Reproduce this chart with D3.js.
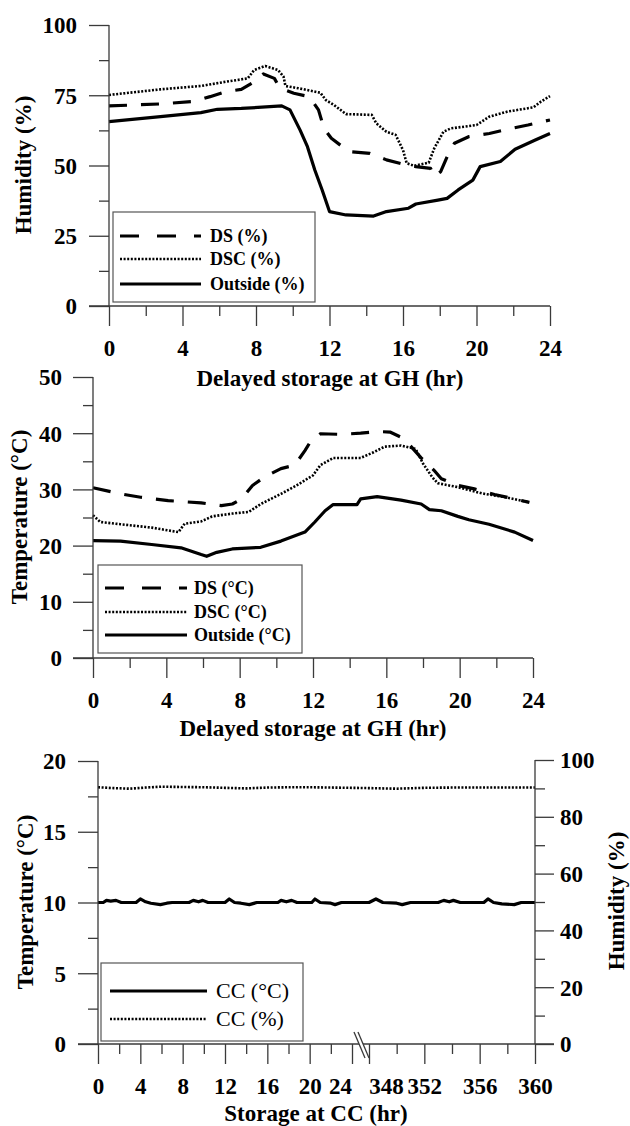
<!DOCTYPE html>
<html><head><meta charset="utf-8">
<script src="https://cdn.jsdelivr.net/npm/d3@7/dist/d3.min.js"></script>
<style>
html,body{margin:0;padding:0;background:#fff;}
svg text{font-family:"Liberation Serif","Times New Roman",serif;fill:#000;}
</style></head>
<body>
<svg id="c" width="630" height="1126"></svg>
<script>
// ---------- DATA ----------
// Panel 1: Humidity (%) vs delayed storage at GH (hr)
const humDS = [[0,71.2],[2.8,71.9],[4.6,72.8],[5.5,74.5],[6.35,76.3],[7.2,77.1],[7.9,79.8],[8.4,82.6],[9.0,81.0],[9.3,77.5],[10.06,75.7],[10.9,74.5],[11.4,69.8],[11.7,63.2],[12.1,59.7],[12.7,56.7],[13.1,54.9],[14.2,54.3],[15.1,52.0],[16.0,50.5],[16.7,49.6],[17.5,49.0],[17.7,46.0],[18.05,47.8],[18.4,53.1],[18.8,57.9],[19.6,60.3],[20.7,61.4],[21.9,63.2],[22.8,64.4],[24,66.2]];
const humDSC = [[0,75.1],[2.8,77.1],[5.0,78.3],[6.35,79.8],[7.55,81.0],[7.9,84.0],[8.5,85.4],[9.2,84.0],[9.5,81.6],[9.6,78.3],[10.3,77.5],[11.5,75.9],[11.8,73.3],[12.25,71.5],[12.9,68.3],[14.3,68.0],[14.55,65.0],[15.1,62.0],[15.6,60.9],[16.0,55.5],[16.2,50.8],[16.6,49.9],[17.4,51.0],[17.7,56.1],[18.2,62.0],[18.6,63.2],[20.0,64.4],[20.7,67.4],[21.7,69.2],[23.1,70.7],[23.5,72.7],[24,74.7]];
const humOut = [[0,65.6],[2.8,67.4],[5.0,68.8],[5.9,70.0],[7.2,70.3],[9.4,71.2],[9.85,69.8],[10.4,62.6],[10.8,56.7],[11.2,48.4],[11.6,41.3],[12.0,33.6],[12.9,32.4],[14.4,32.0],[15.1,33.6],[16.3,34.8],[16.7,36.3],[17.9,37.7],[18.4,38.3],[19.0,41.3],[19.8,44.8],[20.2,49.6],[21.3,51.4],[22.1,55.8],[23.2,59.1],[24,61.4]];
// Panel 2: Temperature (°C) vs delayed storage at GH (hr)
const tmpDS = [[0,30.3],[1.5,29.2],[2.6,28.6],[4.1,28.0],[5.9,27.6],[7.0,27.1],[7.6,27.4],[8.1,28.3],[8.7,30.7],[9.4,32.3],[10.25,33.7],[11.0,34.3],[11.56,36.9],[11.9,38.7],[12.4,39.9],[13.5,39.8],[14.6,40.0],[15.5,40.3],[16.2,40.2],[16.8,39.3],[17.3,37.8],[17.9,35.6],[18.6,33.4],[19.0,31.9],[19.9,30.7],[20.8,30.1],[21.9,29.1],[23.0,28.3],[23.8,27.7]];
const tmpDSC = [[0,25.4],[0.4,24.2],[1.5,23.8],[3.2,23.2],[4.66,22.4],[5.0,23.9],[5.9,24.3],[6.5,25.2],[7.6,25.7],[8.5,26.0],[9.15,27.4],[10.25,29.2],[11.1,30.7],[12.0,32.5],[12.4,34.3],[13.1,35.6],[14.6,35.6],[15.3,36.6],[15.9,37.6],[16.8,37.8],[17.6,37.2],[18.0,34.6],[18.5,32.2],[18.8,31.1],[19.9,30.4],[21.2,29.3],[22.5,28.6],[23.8,27.7]];
const tmpOut = [[0,20.9],[1.5,20.8],[3.2,20.2],[4.8,19.6],[5.9,18.4],[6.2,18.1],[6.75,18.8],[7.6,19.4],[9.15,19.7],[10.25,20.8],[11.56,22.4],[12.1,24.2],[12.66,26.2],[13.1,27.3],[14.4,27.3],[14.6,28.3],[15.5,28.7],[16.8,28.1],[17.9,27.4],[18.35,26.4],[19.0,26.2],[19.9,25.2],[20.5,24.6],[21.6,23.8],[23.0,22.4],[24,20.9]];
// Panel 3: Storage at CC (hr), broken axis 0-24 | 348-360
const ccTemp = [[0,10.0],[0.5,10.0],[0.8,10.15],[1.2,10.1],[1.7,10.15],[2.2,10.0],[3.6,10.0],[4.0,10.25],[4.5,10.05],[5.0,9.95],[5.9,9.85],[6.5,9.95],[7.0,10.0],[8.6,10.0],[9.0,10.15],[9.5,10.05],[9.9,10.15],[10.4,10.0],[12.0,10.0],[12.4,10.25],[12.9,10.0],[13.5,9.95],[14.3,9.85],[15.0,10.0],[17.0,10.0],[17.3,10.15],[17.8,10.05],[18.3,10.15],[18.8,10.0],[20.2,10.0],[20.5,10.25],[21.0,10.0],[22.0,9.95],[22.4,9.85],[23.0,10.0],[24,10.0],[348,10.0],[348.5,10.25],[349.0,10.0],[350.0,9.95],[350.4,9.85],[351.0,10.0],[353.0,10.0],[353.4,10.15],[353.8,10.05],[354.1,10.15],[354.6,10.0],[356.3,10.0],[356.6,10.25],[357.0,10.0],[357.6,9.9],[358.5,9.85],[359.0,10.0],[360,10.0]];
const ccHum = [[0,90.4],[1.5,90.1],[3,89.9],[4.5,90.3],[6,90.6],[8,90.5],[10,90.4],[12,90.2],[14,90.0],[16,90.3],[18,90.4],[20,90.4],[22,90.3],[24,90.2],[348,90.1],[350,89.9],[352,90.2],[354,90.3],[356,90.3],[358,90.3],[360,90.3]];

const ghMajor = [0,4,8,12,16,20,24];
const ghMinor = [2,6,10,14,18,22];
const humMajor = [0,25,50,75,100];
const humMinor = [12.5,37.5,62.5,87.5];
const tmpMajor = [0,10,20,30,40,50];
const tmpMinor = [5,15,25,35,45];
const ccTMajor = [0,5,10,15,20];
const ccTMinor = [2.5,7.5,12.5,17.5];
const ccHMajor = [0,20,40,60,80,100];
const ccHMinor = [10,30,50,70,90];
const ccXMajorA = [0,4,8,12,16,20,24];
const ccXMinorA = [2,6,10,14,18,22];
const ccXMajorB = [348,352,356,360];
const ccXMinorB = [350,354,358];

const legend1 = ["DS (%)","DSC (%)","Outside (%)"];
const legend2 = ["DS (°C)","DSC (°C)","Outside (°C)"];
const legend3 = ["CC (°C)","CC (%)"];

// ---------- DRAWING ----------
const svg = d3.select("#c");
const AX = "#3a3a3a";
const styles = {
  dash: {w:3.2, d:"18,14"},
  dot:  {w:2.6, d:"2,1.6"},
  solid:{w:3.2, d:null}
};

function ticks(g, axis){
  g.call(axis);
  g.select(".domain").remove();
  g.selectAll(".tick line").attr("stroke",AX).attr("stroke-width",1.3);
  g.selectAll("text").attr("font-size",23).attr("font-weight","bold").attr("fill","#000");
}

function leftAxis(y, x0, major, minor, labelGap){
  const g1 = svg.append("g").attr("transform",`translate(${x0},0)`);
  ticks(g1, d3.axisLeft(y).tickValues(major).tickSize(20).tickPadding(labelGap).tickFormat(d3.format("d")));
  g1.selectAll("text").attr("dy","0.34em");
  const g2 = svg.append("g").attr("transform",`translate(${x0},0)`);
  ticks(g2, d3.axisLeft(y).tickValues(minor).tickSize(10).tickFormat(""));
}
function bottomAxis(x, y0, major, minor){
  const g1 = svg.append("g").attr("transform",`translate(0,${y0})`);
  ticks(g1, d3.axisBottom(x).tickValues(major).tickSize(20).tickPadding(14).tickFormat(d3.format("d")));
  const g2 = svg.append("g").attr("transform",`translate(0,${y0})`);
  ticks(g2, d3.axisBottom(x).tickValues(minor).tickSize(10).tickFormat(""));
  return g1;
}
function hline(x1,x2,y){svg.append("line").attr("x1",x1).attr("x2",x2).attr("y1",y).attr("y2",y).attr("stroke",AX).attr("stroke-width",1.3);}
function vline(x,y1,y2){svg.append("line").attr("x1",x).attr("x2",x).attr("y1",y1).attr("y2",y2).attr("stroke",AX).attr("stroke-width",1.3);}

function series(data, xf, y, st){
  const line = d3.line().x(d=>xf(d[0])).y(d=>y(d[1]));
  const p = svg.append("path").datum(data).attr("d",line).attr("fill","none")
    .attr("stroke","#000").attr("stroke-width",st.w).attr("stroke-linejoin","round");
  if(st.d) p.attr("stroke-dasharray",st.d);
}
function legend(x,y,w,h,items,sts,lx1,lx2,tx,rows,fs,fw){
  svg.append("rect").attr("x",x).attr("y",y).attr("width",w).attr("height",h)
    .attr("fill","#fff").attr("stroke","#555").attr("stroke-width",1.2);
  items.forEach((t,i)=>{
    const st = sts[i];
    const l = svg.append("line").attr("x1",lx1).attr("x2",lx2).attr("y1",rows[i]).attr("y2",rows[i])
      .attr("stroke","#000").attr("stroke-width",st.w);
    if(st.d) l.attr("stroke-dasharray", st===styles.dash ? "19,18" : st.d);
    svg.append("text").attr("x",tx).attr("y",rows[i]).attr("dy","0.34em")
      .attr("font-size",fs).attr("font-weight",fw).text(t);
  });
}
function yTitle(x,y,t){
  svg.append("text").attr("transform",`translate(${x},${y}) rotate(-90)`).attr("text-anchor","middle")
    .attr("font-size",23).attr("font-weight","bold").text(t);
}
function xTitle(x,y,t){
  svg.append("text").attr("x",x).attr("y",y).attr("text-anchor","middle")
    .attr("font-size",23).attr("font-weight","bold").text(t);
}

// ----- Panel 1 -----
{
  const x = d3.scaleLinear().domain([0,24]).range([109,550]);
  const y = d3.scaleLinear().domain([0,100]).range([306,25]);
  series(humDS, x, y, styles.dash);
  series(humDSC, x, y, styles.dot);
  series(humOut, x, y, styles.solid);
  vline(109, 25, 306); hline(89, 550, 306);
  leftAxis(y, 109, humMajor, humMinor, 12);
  bottomAxis(x, 306, ghMajor, ghMinor);
  legend(113,212,202,90,legend1,[styles.dash,styles.dot,styles.solid],120,201,210,[236,259,284],18,"bold");
  yTitle(31,165,"Humidity (%)");
  xTitle(330,386,"Delayed storage at GH (hr)");
}
// ----- Panel 2 -----
{
  const x = d3.scaleLinear().domain([0,24]).range([93,533]);
  const y = d3.scaleLinear().domain([0,50]).range([658,377]);
  series(tmpDS, x, y, styles.dash);
  series(tmpDSC, x, y, styles.dot);
  series(tmpOut, x, y, styles.solid);
  vline(93, 377, 658); hline(73, 533, 658);
  leftAxis(y, 93, tmpMajor, tmpMinor, 11);
  bottomAxis(x, 658, ghMajor, ghMinor);
  legend(98,565,204,88,legend2,[styles.dash,styles.dot,styles.solid],105,187,194,[588,612,635],18,"bold");
  yTitle(27,517,"Temperature (°C)");
  xTitle(313,736,"Delayed storage at GH (hr)");
}
// ----- Panel 3 -----
{
  const xA = d3.scaleLinear().domain([0,24]).range([98,352]);
  const xB = d3.scaleLinear().domain([348,360]).range([369,535]);
  const xf = h => h <= 24 ? xA(h) : xB(h);
  const yT = d3.scaleLinear().domain([0,20]).range([1044,761]);
  const yH = d3.scaleLinear().domain([0,100]).range([1044,760]);
  series(ccHum, xf, yH, styles.dot);
  series(ccTemp, xf, yT, styles.solid);
  vline(98, 761, 1044); vline(535, 760, 1044); hline(78, 554, 1044);
  leftAxis(yT, 98, ccTMajor, ccTMinor, 12);
  // right axis
  const gr1 = svg.append("g").attr("transform","translate(535,0)");
  ticks(gr1, d3.axisRight(yH).tickValues(ccHMajor).tickSize(19).tickPadding(6).tickFormat(d3.format("d")));
  gr1.selectAll("text").attr("dy","0.34em");
  const gr2 = svg.append("g").attr("transform","translate(535,0)");
  ticks(gr2, d3.axisRight(yH).tickValues(ccHMinor).tickSize(10).tickFormat(""));
  const ga = bottomAxis(xA, 1044, ccXMajorA, ccXMinorA);
  const gb = bottomAxis(xB, 1044, ccXMajorB, ccXMinorB);
  const nudge = {24:-12, 348:17};
  ga.selectAll(".tick text").attr("dx", d => nudge[d] || 0);
  gb.selectAll(".tick text").attr("dx", d => nudge[d] || 0);
  // axis break marks
  svg.append("path").attr("d","M354,1033 L365,1057 L369,1057 L358,1033 Z").attr("fill","#fff");
  svg.append("line").attr("x1",354).attr("y1",1032).attr("x2",365).attr("y2",1058).attr("stroke",AX).attr("stroke-width",1.3);
  svg.append("line").attr("x1",358).attr("y1",1032).attr("x2",369).attr("y2",1058).attr("stroke",AX).attr("stroke-width",1.3);
  legend(101,963,202,78,legend3,[styles.solid,styles.dot],110,207,216,[991,1019],22,"normal");
  yTitle(33,902,"Temperature (°C)");
  yTitle(624,901,"Humidity (%)");
  xTitle(316,1121,"Storage at CC (hr)");
}
</script>
</body></html>
